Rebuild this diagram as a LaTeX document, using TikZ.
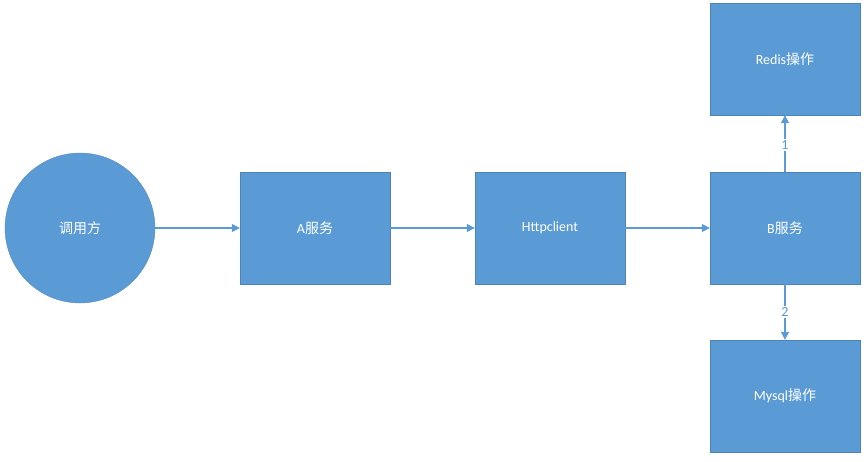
\documentclass[tikz,border=0pt]{standalone}
\usepackage{fontspec}
\setmainfont{Carlito}
\newfontfamily\cjk{Noto Sans CJK SC}
\usetikzlibrary{arrows.meta}
\definecolor{boxblue}{HTML}{5B9BD5}
\definecolor{lineblue}{HTML}{5B9BD5}
\tikzset{
  box/.style={rectangle, fill=boxblue, draw=boxblue!85!black, line width=0.3pt, minimum width=150pt, minimum height=112pt, inner sep=0pt, text=white, font=\fontsize{14}{16}\selectfont},
  circ/.style={circle, fill=boxblue, draw=boxblue!85!black, line width=0.3pt, minimum size=150pt, inner sep=0pt, text=white, font=\fontsize{14}{16}\selectfont},
  conn/.style={draw=lineblue, line width=1.2pt, -{Triangle[length=8pt,width=8pt]}},
  lbl/.style={fill=white, text=lineblue, inner sep=1.5pt, font=\fontsize{14}{16}\selectfont}
}
\begin{document}
\begin{tikzpicture}[x=1pt,y=-1pt]
\useasboundingbox (0,0) rectangle (866,461);
\node[circ] (caller) at (80,228) {\cjk 调用方};
\node[box] (a) at (315,228) {A\cjk 服务};
\node[box] (h) at (550,228) {Httpclient};
\node[box] (b) at (785,228) {B\cjk 服务};
\node[box] (r) at (785,59) {Redis\cjk 操作};
\node[box] (m) at (785,396) {Mysql\cjk 操作};
\draw[conn] (caller) -- (a);
\draw[conn] (a) -- (h);
\draw[conn] (h) -- (b);
\draw[conn] (b) -- node[lbl, pos=0.47] {1} (r);
\draw[conn] (b) -- node[lbl, pos=0.5] {2} (m);
\end{tikzpicture}
\end{document}
